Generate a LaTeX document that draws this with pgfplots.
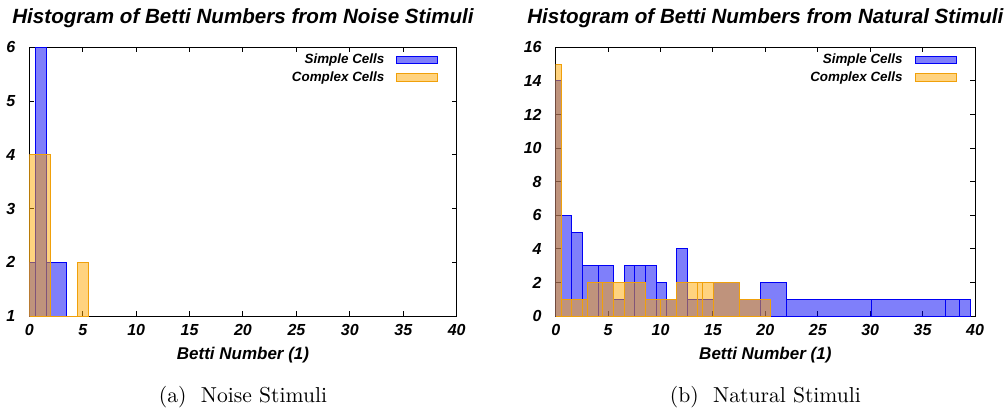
\documentclass[border=0pt]{standalone}
\usepackage{fontspec}
\usepackage{pgfplots}
\pgfplotsset{compat=1.18}
\newfontfamily\hv{Liberation Sans}
\newcommand\lab{\hv\bfseries\itshape}
\definecolor{sblue}{RGB}{0,0,245}
\definecolor{corange}{RGB}{255,168,0}
\definecolor{cedge}{RGB}{240,160,10}

\pgfplotsset{
  betti/.style={
    scale only axis, height=134.3pt,
    xmin=0, xmax=40, xtick={0,5,...,40},
    tick align=inside,
    axis line style={line width=0.5pt},
    major tick length=2.5pt,
    tick style={black, line width=0.5pt},
    ticklabel style={font=\lab\fontsize{8}{9}\selectfont},
    /pgf/number format/assume math mode=true,
    xticklabel style={anchor=center, yshift=-7pt},
    yticklabel style={xshift=-3.5pt},
    xlabel={Betti Number (1)},
    every axis x label/.style={at={(axis description cs:0.5,0)}, anchor=center, yshift=-19.5pt,
      font=\lab\fontsize{8.5}{10}\selectfont},
    every axis title/.style={at={(axis description cs:0.5,1)}, anchor=center, yshift=14.5pt,
      font=\lab\fontsize{10.3}{12}\selectfont},
    legend plot pos=right,
    legend cell align=right,
    legend style={draw=none, fill=none, at={(axis description cs:1,1)}, anchor=north east,
      xshift=-9pt, yshift=-3pt, inner sep=0pt, row sep=2.4pt, column sep=6pt,
      nodes={inner sep=0pt, font=\lab\fontsize{6.7}{8}\selectfont}},
  },
  sbar/.style={ybar interval, draw=sblue, line width=0.5pt, fill=sblue, fill opacity=0.5,
    legend image code/.code={\draw[sblue, line width=0.5pt, fill=sblue, fill opacity=0.5] (0pt,-1.9pt) rectangle (20.5pt,1.9pt);}},
  cbar/.style={ybar interval, draw=cedge, line width=0.5pt, fill=corange, fill opacity=0.5,
    legend image code/.code={\draw[cedge, line width=0.5pt, fill=corange, fill opacity=0.5] (0pt,-1.9pt) rectangle (20.5pt,1.9pt);}},
}

\begin{document}
\begin{tikzpicture}
\useasboundingbox (0,0) rectangle (504pt,204.5pt);

% noise stimuli
\begin{axis}[betti, at={(14.65pt,46.5pt)}, anchor=south west, width=213.7pt,
  ymin=1, ymax=6, ytick={1,2,...,6},
  title={Histogram of Betti Numbers from Noise Stimuli}]
\addplot[sbar] coordinates {(0,2) (0.55,6) (1.6,2) (3.5,0)};
\addlegendentry{Simple Cells}
\addplot[cbar] coordinates {(0,4) (1.95,0) (4.55,2) (5.5,0)};
\addlegendentry{Complex Cells}
\end{axis}

% natural stimuli
\begin{axis}[betti, at={(277.85pt,46.5pt)}, anchor=south west, width=209.65pt,
  ymin=0, ymax=16, ytick={0,2,...,16},
  title={Histogram of Betti Numbers from Natural Stimuli}]
\addplot[sbar] coordinates {
  (0,14) (0.51,6) (1.53,5) (2.54,3) (4.07,3) (5.54,1) (6.52,3) (7.54,3)
  (8.56,3) (9.58,2) (10.53,1) (11.55,4) (12.57,1) (13.52,1) (14.0,1)
  (15.05,2) (17.5,1) (19.5,2) (22.0,1) (30.1,1) (37.2,1) (38.5,1) (39.6,0)};
\addlegendentry{Simple Cells}
\addplot[cbar] coordinates {
  (0,15) (0.51,1) (1.53,1) (2.54,1) (3.05,2) (4.5,2) (5.54,2) (6.52,2)
  (8.56,1) (9.96,1) (11.55,2) (13.52,2) (14.0,2) (15.05,2) (17.5,1) (20.5,0)};
\addlegendentry{Complex Cells}
\end{axis}

\node[font=\fontsize{10.8}{13}\selectfont] at (121.5pt,6pt) {(a)\ \ Noise Stimuli};
\node[font=\fontsize{10.8}{13}\selectfont] at (382.7pt,6pt) {(b)\ \ Natural Stimuli};
\end{tikzpicture}
\end{document}
